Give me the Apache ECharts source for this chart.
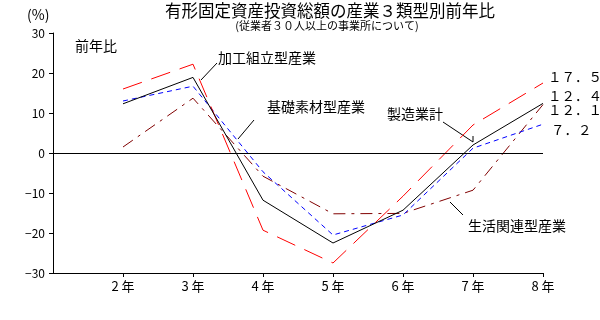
<!DOCTYPE html>
<html><head><meta charset="utf-8">
<script src="https://cdn.jsdelivr.net/npm/echarts@6/dist/echarts.min.js"></script>
<style>html,body{margin:0;padding:0;background:#fff}#c{width:600px;height:320px}</style>
</head><body><div id="c"></div>
<script>
const years = [2, 3, 4, 5, 6, 7, 8];
const yearLabels = ['2 年', '3 年', '4 年', '5 年', '6 年', '7 年', '8 年'];
const kakou = [16, 22.2, -19.3, -27.5, -10.8, 7, 17.5];      // 加工組立型産業
const kiso = [13, 16.7, -4.7, -20.5, -15.5, 1.2, 7.2];       // 基礎素材型産業
const seizou = [12.3, 18.9, -11.8, -22.5, -14.3, 2, 12.4];   // 製造業計
const seikatsu = [1.5, 13.7, -5.8, -15.2, -15.1, -9.3, 12.1];// 生活関連型産業
const yTicks = [-30, -20, -10, 0, 10, 20, 30];

const FONT = '"Noto Sans CJK JP", sans-serif';
function fw(v) {
  return String(v).replace(/[0-9.]/g, c => c === '.' ? '．' : String.fromCharCode(c.charCodeAt(0) + 0xFEE0));
}
function pts(arr) { return years.map((y, i) => [y, arr[i]]); }
function endLbl(dx, dy) {
  return { show: true, formatter: p => fw(p.value[1]), color: '#000', fontSize: 13.5, fontFamily: FONT, offset: [dx, dy], distance: 4 };
}
const chart = echarts.init(document.getElementById('c'), null, { renderer: 'canvas' });
const txt = (x, y, t, size, align) => ({ type: 'text', x, y, style: { text: t, fill: '#000', font: size + 'px ' + FONT, textAlign: align || 'left', textVerticalAlign: 'middle' } });
const ln = (x1, y1, x2, y2) => ({ type: 'line', shape: { x1, y1, x2, y2 }, style: { stroke: '#000', lineWidth: 1 } });
chart.setOption({
  animation: false,
  grid: { left: 53, right: 57, top: 33, bottom: 47 },
  xAxis: {
    type: 'value', min: 1, max: 8, interval: 1,
    axisLine: { onZero: false, lineStyle: { color: '#000', width: 1 } },
    axisTick: { show: true, length: 4, customValues: years, lineStyle: { color: '#000' } },
    axisLabel: { customValues: years, formatter: v => yearLabels[years.indexOf(v)] || '', color: '#000', fontSize: 13, fontFamily: FONT, margin: 7 },
    splitLine: { show: false }
  },
  yAxis: {
    type: 'value', min: -30, max: 30, interval: 10,
    axisLine: { show: true, lineStyle: { color: '#000', width: 1 } },
    axisTick: { show: true, length: 4, lineStyle: { color: '#000' } },
    axisLabel: { formatter: v => yTicks.includes(v) ? String(v).replace('-', '−') : '', color: '#000', fontSize: 12, fontFamily: FONT, margin: 8 },
    splitLine: { show: false }
  },
  series: [
    { name: '生活関連型産業', type: 'line', data: pts(seikatsu), symbol: 'none',
      lineStyle: { color: '#800000', width: 1, type: [12, 6, 3, 6] }, endLabel: endLbl(1, 5) },
    { name: '基礎素材型産業', type: 'line', data: pts(kiso), symbol: 'none',
      lineStyle: { color: '#0000ff', width: 1, type: [5, 4] }, endLabel: endLbl(4, 6) },
    { name: '加工組立型産業', type: 'line', data: pts(kakou), symbol: 'none',
      lineStyle: { color: '#ff0000', width: 1, type: [20, 10] }, endLabel: endLbl(1, -6) },
    { name: '製造業計', type: 'line', data: pts(seizou), symbol: 'none',
      lineStyle: { color: '#000', width: 1 }, endLabel: endLbl(1, -7.5),
      markLine: { silent: true, symbol: 'none', label: { show: false }, lineStyle: { color: '#000', type: 'solid', width: 1 }, data: [{ yAxis: 0 }] } }
  ],
  graphic: [
    txt(330, 11, '有形固定資産投資総額の産業３類型別前年比', 16.5, 'center'),
    txt(327, 26, '(従業者３０人以上の事業所について)', 11, 'center'),
    txt(27, 15, '(%)', 14),
    txt(75, 46, '前年比', 14),
    txt(218, 58, '加工組立型産業', 14), ln(217, 63, 201, 80),
    txt(267, 107, '基礎素材型産業', 14), ln(254, 120, 238, 139),
    txt(387, 114, '製造業計', 14), ln(443, 122, 473, 142), ln(473, 142, 473, 136),
    txt(468, 226, '生活関連型産業', 14), ln(463, 215, 450, 202)
  ]
});
</script></body></html>
